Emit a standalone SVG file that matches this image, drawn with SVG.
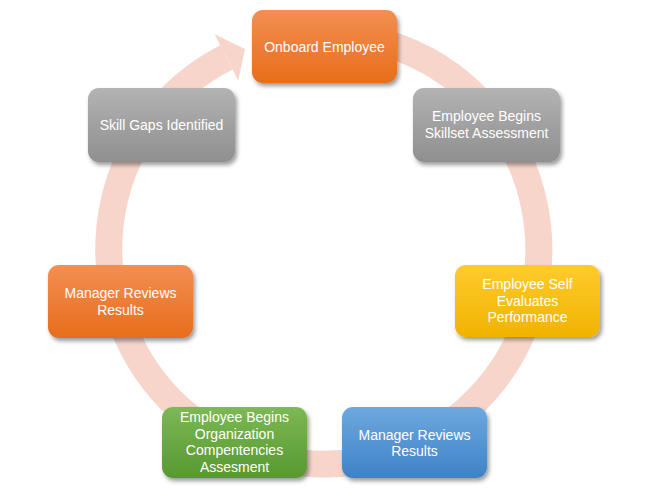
<svg xmlns="http://www.w3.org/2000/svg" width="649" height="497" viewBox="0 0 649 497">
  <style>
    .lbl { font-family: "Liberation Sans", Arial, sans-serif; font-size: 14px; fill: #ffffff; text-anchor: middle; }
    .box { filter: url(#shadow); }
    .ring { fill: none; stroke: #F7D5CB; stroke-width: 27; }
  </style>
  <defs>
    <filter id="shadow" x="-20%" y="-20%" width="140%" height="150%">
      <feDropShadow dx="2" dy="3" stdDeviation="2.2" flood-color="#000" flood-opacity="0.4"/>
    </filter>
    <linearGradient id="gOrange" x1="0" y1="0" x2="0" y2="1">
      <stop offset="0" stop-color="#F28F52"/>
      <stop offset="1" stop-color="#E86D1B"/>
    </linearGradient>
    <linearGradient id="gGray" x1="0" y1="0" x2="0" y2="1">
      <stop offset="0" stop-color="#B3B3B3"/>
      <stop offset="1" stop-color="#8F8F8F"/>
    </linearGradient>
    <linearGradient id="gGold" x1="0" y1="0" x2="0" y2="1">
      <stop offset="0" stop-color="#FFCB2E"/>
      <stop offset="1" stop-color="#F0B300"/>
    </linearGradient>
    <linearGradient id="gBlue" x1="0" y1="0" x2="0" y2="1">
      <stop offset="0" stop-color="#6EA8DF"/>
      <stop offset="1" stop-color="#3E82C6"/>
    </linearGradient>
    <linearGradient id="gGreen" x1="0" y1="0" x2="0" y2="1">
      <stop offset="0" stop-color="#7CB955"/>
      <stop offset="1" stop-color="#589830"/>
    </linearGradient>
  </defs>
  <rect width="649" height="497" fill="#ffffff"/>

  <g id="connectors">
    <path class="ring" d="M 286.7 37.3 A 215 215 0 1 1 226.4 57.4"/>
    <polygon points="214.6,34.3 245,49 238.2,80.6" fill="#F7D5CB"/>
  </g>

  <g id="node-onboard">
    <rect class="box" x="252" y="10" width="145" height="73" rx="11" fill="url(#gOrange)"/>
    <text class="lbl" x="324.5" y="51.5">Onboard Employee</text>
  </g>

  <g id="node-skillset">
    <rect class="box" x="413" y="88" width="147" height="74" rx="11" fill="url(#gGray)"/>
    <text class="lbl" x="486.5" y="121">Employee Begins</text>
    <text class="lbl" x="486.5" y="138">Skillset Assessment</text>
  </g>

  <g id="node-self">
    <rect class="box" x="455" y="265" width="145" height="72" rx="11" fill="url(#gGold)"/>
    <text class="lbl" x="527.5" y="288.5">Employee Self</text>
    <text class="lbl" x="527.5" y="305.5">Evaluates</text>
    <text class="lbl" x="527.5" y="322">Performance</text>
  </g>

  <g id="node-manager-blue">
    <rect class="box" x="342" y="407" width="145" height="71" rx="11" fill="url(#gBlue)"/>
    <text class="lbl" x="414.5" y="440">Manager Reviews</text>
    <text class="lbl" x="414.5" y="456">Results</text>
  </g>

  <g id="node-org">
    <rect class="box" x="162" y="407" width="145" height="71" rx="11" fill="url(#gGreen)"/>
    <text class="lbl" x="234.5" y="422">Employee Begins</text>
    <text class="lbl" x="234.5" y="438.7">Organization</text>
    <text class="lbl" x="234.5" y="455.3">Compentencies</text>
    <text class="lbl" x="234.5" y="472">Assesment</text>
  </g>

  <g id="node-manager-orange">
    <rect class="box" x="48" y="265" width="145" height="73" rx="11" fill="url(#gOrange)"/>
    <text class="lbl" x="120.5" y="298">Manager Reviews</text>
    <text class="lbl" x="120.5" y="315">Results</text>
  </g>

  <g id="node-gaps">
    <rect class="box" x="88" y="88" width="147" height="74" rx="11" fill="url(#gGray)"/>
    <text class="lbl" x="161.5" y="130">Skill Gaps Identified</text>
  </g>
</svg>
